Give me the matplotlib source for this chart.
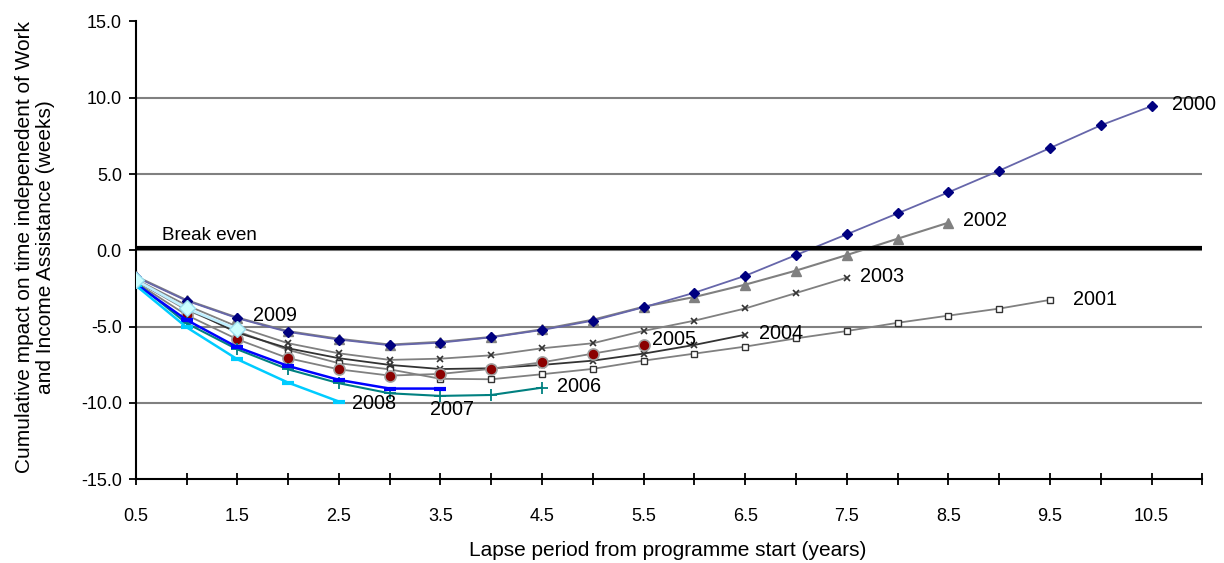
import matplotlib
matplotlib.use("Agg")
import matplotlib.pyplot as plt
import numpy as np

plt.rcParams['font.family'] = ['Liberation Sans', 'DejaVu Sans']

# Lapse period categories (years)
lapse = [0.5, 1.0, 1.5, 2.0, 2.5, 3.0, 3.5, 4.0, 4.5, 5.0, 5.5,
         6.0, 6.5, 7.0, 7.5, 8.0, 8.5, 9.0, 9.5, 10.0, 10.5]

s2000 = [-1.75, -3.30, -4.45, -5.35, -5.85, -6.22, -6.05, -5.70, -5.22, -4.61, -3.73,
         -2.78, -1.67, -0.31, 1.05, 2.42, 3.80, 5.22, 6.70, 8.19, 9.45]
s2002 = [-1.70, -3.26, -4.41, -5.30, -5.80, -6.18, -6.00, -5.68, -5.18, -4.55, -3.70,
         -3.06, -2.25, -1.33, -0.31, 0.76, 1.81]
s2003 = [-1.90, -3.60, -5.00, -6.09, -6.75, -7.18, -7.10, -6.88, -6.42, -6.09, -5.28,
         -4.61, -3.81, -2.80, -1.79]
s2001 = [-2.00, -3.90, -5.30, -6.53, -7.40, -7.80, -8.42, -8.45, -8.12, -7.77, -7.23,
         -6.77, -6.31, -5.77, -5.29, -4.75, -4.28, -3.82, -3.25]
s2004 = [-2.00, -3.80, -5.40, -6.42, -7.07, -7.51, -7.78, -7.73, -7.51, -7.23, -6.77,
         -6.20, -5.53]
s2005 = [-2.10, -4.24, -5.83, -7.07, -7.80, -8.21, -8.10, -7.77, -7.34, -6.77, -6.20]
s2006 = [-2.10, -4.78, -6.49, -7.80, -8.71, -9.37, -9.54, -9.48, -9.00]
s2007 = [-2.20, -4.56, -6.35, -7.58, -8.49, -9.06, -9.06]
s2008 = [-2.30, -5.04, -7.14, -8.67, -9.91]
s2009 = [-1.95, -3.80, -5.18]

series_names = ['2000', '2001', '2002', '2003', '2004', '2005', '2006', '2007', '2008', '2009']
break_even = 0.15

fig = plt.figure(figsize=(12.24, 5.63), dpi=100)
ax = fig.add_axes([0.1109, 0.1488, 0.8714, 0.8132])

# gridlines
for yv in [-10, -5, 0, 5, 10]:
    ax.axhline(yv, color='#808080', lw=1.5, zorder=1)

def plot_series(vals, **kw):
    ax.plot(lapse[:len(vals)], vals, zorder=3, **kw)

plot_series(s2001, color='#808080', lw=1.3, marker='s', ms=5, mfc='white', mec='#333333', mew=1.0)
plot_series(s2003, color='#808080', lw=1.3, marker='x', ms=4, mec='#333333', mew=1.2)
plot_series(s2004, color='#333333', lw=1.3, marker='x', ms=4, mec='#333333', mew=1.2)
plot_series(s2005, color='#808080', lw=1.3, marker='o', ms=8, mfc='#8B0000', mec='#A0A0A0', mew=1.2)
plot_series(s2006, color='#008080', lw=1.5, marker='+', ms=8, mec='#008080', mew=1.3)
plot_series(s2007, color='#0000FF', lw=1.8, marker='_', ms=9, mec='#0000FF', mew=3)
plot_series(s2008, color='#00CCFF', lw=1.8, marker='_', ms=9, mec='#00CCFF', mew=3)
plot_series(s2002, color='#808080', lw=1.5, marker='^', ms=7, mfc='#808080', mec='#808080')
plot_series(s2000, color='#6666AA', lw=1.3, marker='D', ms=5.5, mfc='#000080', mec='#000080')
plot_series(s2009, color='#BFEFFF', lw=2.0, marker='D', ms=8, mfc='#CCFFFF', mec='#99DDEE')

ax.axhline(break_even, color='black', lw=3, zorder=4)
ax.text(0.76, 0.94, 'Break even', fontsize=13.5, va='center', ha='left')

# series labels
label_pos = {'2000': (10.70, 9.58), '2002': (8.64, 1.98), '2003': (7.63, -1.69),
             '2001': (9.73, -3.25), '2004': (6.64, -5.42), '2005': (5.58, -5.87),
             '2006': (4.65, -8.95), '2007': (3.40, -10.4), '2008': (2.63, -10.07),
             '2009': (1.65, -4.24)}
for name in series_names:
    x, y = label_pos[name]
    ax.text(x, y, name, fontsize=14.3, va='center', ha='left', zorder=5)

ax.set_xlim(0.5, 11.0)
ax.set_ylim(-15, 15)
ax.set_yticks([-15, -10, -5, 0, 5, 10, 15])
ax.set_yticklabels([f'{v:.1f}' for v in [-15, -10, -5, 0, 5, 10, 15]], fontsize=13)
ticks = np.arange(0.5, 11.01, 0.5)
ax.set_xticks(ticks)
ax.set_xticklabels([f'{t:.1f}' if i % 2 == 0 else '' for i, t in enumerate(ticks)], fontsize=13)
ax.tick_params(axis='x', direction='inout', length=8, width=1.3, pad=17)
ax.tick_params(axis='y', direction='out', length=5, width=1.3, pad=5)

for sp in ['top', 'right']:
    ax.spines[sp].set_visible(False)
for sp in ['left', 'bottom']:
    ax.spines[sp].set_linewidth(1.5)
    ax.spines[sp].set_color('black')

fig.text(667.5 / 1224, 1 - 550 / 563, 'Lapse period from programme start (years)',
         fontsize=15, ha='center', va='center')
fig.text(35 / 1224, 1 - 247 / 563,
         'Cumulative mpact on time indepenedent of Work\nand Income Assistance (weeks)',
         fontsize=15, ha='center', va='center', rotation=90, linespacing=1.1)

fig.savefig('out.png', dpi=100)
